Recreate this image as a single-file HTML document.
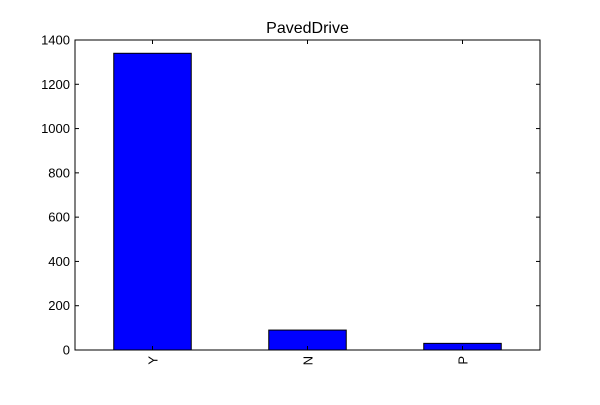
<!DOCTYPE html>
<html><head><meta charset="utf-8"><style>
body{margin:0;background:#fff;}
text{font-family:"Liberation Sans","DejaVu Sans",sans-serif;}
</style></head><body>
<svg id="chart" width="600" height="400" xmlns="http://www.w3.org/2000/svg">
<rect width="600" height="400" fill="#fff"/>
<text x="307.5" y="33" font-size="16" text-anchor="middle">PavedDrive</text>
<g id="plot"></g>
</svg>
<script>
const categories = ["Y","N","P"];
const values = [1340, 90, 30];
const yTicks = [0,200,400,600,800,1000,1200,1400];
const L=75,R=540,T=40,B=350,yMax=1400;
const ns="http://www.w3.org/2000/svg";
const g=document.getElementById('plot');
const sx=i=>L+(i+0.5)*(R-L)/categories.length;
const sy=v=>B-v/yMax*(B-T);
const bw=0.5*(R-L)/categories.length;
function mk(t,a){const e=document.createElementNS(ns,t);for(const k in a)e.setAttribute(k,a[k]);g.appendChild(e);return e;}
values.forEach((v,i)=>{
  const r=mk('rect',{x:sx(i)-bw/2,y:sy(v),width:bw,height:B-sy(v),fill:'#0000ff',stroke:'#000','stroke-width':1});
  
  
});
const frame=mk('rect',{x:L,y:T,width:R-L,height:B-T,fill:'none',stroke:'#000','stroke-width':1});


yTicks.forEach(t=>{
  const y=sy(t);
  mk('line',{x1:L,x2:L+4,y1:y,y2:y,stroke:'#000'});
  mk('line',{x1:R,x2:R-4,y1:y,y2:y,stroke:'#000'});
  const tx=mk('text',{x:L-5,y:y+4.5,'font-size':13,'text-anchor':'end'});
  tx.textContent=t;
  
  
});
categories.forEach((c,i)=>{
  const x=sx(i);
  mk('line',{x1:x,x2:x,y1:B,y2:B-4,stroke:'#000'});
  mk('line',{x1:x,x2:x,y1:T,y2:T+4,stroke:'#000'});
  const tx=mk('text',{x:x+5,y:B+6,'font-size':13,'text-anchor':'end',transform:`rotate(-90 ${x+5} ${B+6})`});
  tx.textContent=c;
  
  
});
</script>
</body></html>
